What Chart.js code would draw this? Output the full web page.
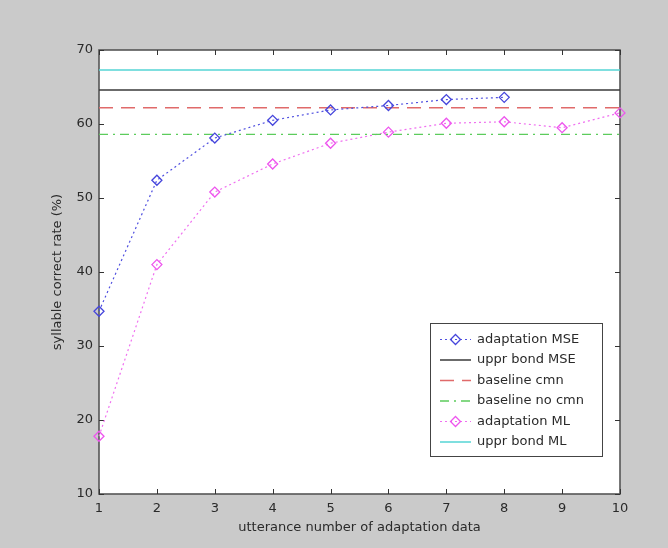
<!DOCTYPE html>
<html>
<head>
<meta charset="utf-8">
<script src="https://cdn.jsdelivr.net/npm/chart.js@4"></script>
<style>
  html, body { margin: 0; padding: 0; background: #cacaca; }
  #wrap { width: 668px; height: 548px; }
</style>
</head>
<body>
<div id="wrap"><canvas id="rateChart" width="668" height="548"></canvas></div>
<script>
// data
const utterances = [1, 2, 3, 4, 5, 6, 7, 8, 9, 10];
const adaptationMSE = [34.7, 52.4, 58.1, 60.5, 61.9, 62.5, 63.3, 63.6];
const adaptationML = [17.8, 41.0, 50.8, 54.6, 57.4, 58.9, 60.1, 60.3, 59.5, 61.5];
const upperBondMSE = 64.6;
const baselineCmn = 62.2;
const baselineNoCmn = 58.6;
const upperBondML = 67.3;
const yTicks = [10, 20, 30, 40, 50, 60, 70];

const FONT = "DejaVu Sans";
const TEXT = "#2a2a2a";

function curve(values) {
    return values.map((v, i) => ({ x: utterances[i], y: v }));
}

function flat(v) {
    return [{ x: utterances[0], y: v }, { x: utterances[utterances.length - 1], y: v }];
}

const datasets = [
    {
        label: "adaptation MSE",
        data: curve(adaptationMSE),
        borderColor: "#5050e0",
        borderWidth: 1.2,
        borderDash: [2, 3],
        pointStyle: "rectRot",
        pointRadius: 5,
        pointBorderColor: "#4646dc",
        pointBackgroundColor: "rgba(0,0,0,0)",
        pointBorderWidth: 1.3,
        marker: true
    },
    {
        label: "uppr bond MSE",
        data: flat(upperBondMSE),
        borderColor: "#3a3a3a",
        borderWidth: 1.5,
        borderDash: [],
        pointRadius: 0
    },
    {
        label: "baseline cmn",
        data: flat(baselineCmn),
        borderColor: "#e06a6a",
        borderWidth: 1.5,
        borderDash: [14, 8],
        pointRadius: 0
    },
    {
        label: "baseline no cmn",
        data: flat(baselineNoCmn),
        borderColor: "#5ccc5c",
        borderWidth: 1.3,
        borderDash: [9, 5, 2, 5],
        pointRadius: 0
    },
    {
        label: "adaptation ML",
        data: curve(adaptationML),
        borderColor: "#f070f0",
        borderWidth: 1.2,
        borderDash: [2, 3],
        pointStyle: "rectRot",
        pointRadius: 5,
        pointBorderColor: "#ee55ee",
        pointBackgroundColor: "rgba(0,0,0,0)",
        pointBorderWidth: 1.3,
        marker: true
    },
    {
        label: "uppr bond ML",
        data: flat(upperBondML),
        borderColor: "#55d4d4",
        borderWidth: 1.5,
        borderDash: [],
        pointRadius: 0
    }
];

// white axes box, frame and inward ticks like the matlab figure
const axesBox = {
    id: "axesBox",
    beforeDatasetsDraw(chart) {
        const { ctx, chartArea: a, scales } = chart;
        ctx.save();
        ctx.strokeStyle = "#555";
        ctx.lineWidth = 1.6;
        ctx.strokeRect(a.left, a.top, a.right - a.left, a.bottom - a.top);
        ctx.lineWidth = 1;
        ctx.strokeStyle = "#333";
        ctx.beginPath();
        utterances.forEach(u => {
            const x = Math.round(scales.x.getPixelForValue(u)) + 0.5;
            ctx.moveTo(x, a.bottom); ctx.lineTo(x, a.bottom - 5);
            ctx.moveTo(x, a.top); ctx.lineTo(x, a.top + 5);
        });
        yTicks.forEach(t => {
            const y = Math.round(scales.y.getPixelForValue(t)) + 0.5;
            ctx.moveTo(a.left, y); ctx.lineTo(a.left + 5, y);
            ctx.moveTo(a.right, y); ctx.lineTo(a.right - 5, y);
        });
        ctx.stroke();
        ctx.restore();
    },
    beforeDraw(chart) {
        const { ctx, chartArea: a } = chart;
        ctx.save();
        ctx.fillStyle = "#ffffff";
        ctx.fillRect(a.left, a.top, a.right - a.left, a.bottom - a.top);
        ctx.restore();
    }
};

// legend box inside the axes, lower right
const insideLegend = {
    id: "insideLegend",
    afterDatasetsDraw(chart) {
        const { ctx } = chart;
        const box = { x: 430.5, y: 323.5, w: 172, h: 133 };
        ctx.save();
        ctx.fillStyle = "#ffffff";
        ctx.fillRect(box.x, box.y, box.w, box.h);
        ctx.strokeStyle = "#444";
        ctx.lineWidth = 1;
        ctx.strokeRect(box.x, box.y, box.w, box.h);
        ctx.font = "13px '" + FONT + "'";
        ctx.textBaseline = "middle";
        chart.data.datasets.forEach((ds, i) => {
            const y = 339.5 + i * 20.5;
            ctx.strokeStyle = ds.borderColor;
            ctx.lineWidth = ds.borderWidth;
            ctx.setLineDash(ds.borderDash);
            ctx.beginPath();
            ctx.moveTo(440, y);
            ctx.lineTo(471, y);
            ctx.stroke();
            ctx.setLineDash([]);
            if (ds.marker) {
                ctx.strokeStyle = ds.pointBorderColor;
                ctx.lineWidth = 1.3;
                ctx.beginPath();
                ctx.moveTo(455.5, y - 5); ctx.lineTo(460.5, y);
                ctx.lineTo(455.5, y + 5); ctx.lineTo(450.5, y);
                ctx.closePath();
                ctx.stroke();
            }
            ctx.fillStyle = TEXT;
            ctx.fillText(ds.label, 477, y);
        });
        ctx.restore();
    }
};

new Chart(document.getElementById("rateChart"), {
    type: "line",
    data: { datasets: datasets },
    options: {
        responsive: false,
        animation: false,
        layout: { padding: { left: 0, right: 48, top: 50, bottom: 0 } },
        elements: { line: { tension: 0 } },
        datasets: { line: { clip: false } },
        plugins: {
            legend: { display: false },
            tooltip: { enabled: false }
        },
        scales: {
            x: {
                type: "linear",
                min: 1,
                max: 10,
                afterFit: s => { s.height = 54; },
                afterBuildTicks: s => { s.ticks = utterances.map(v => ({ value: v })); },
                grid: { display: false, drawTicks: false },
                border: { display: false },
                ticks: { color: TEXT, padding: 7, font: { family: FONT, size: 13 }, maxRotation: 0 },
                title: {
                    display: true,
                    text: "utterance number of adaptation data",
                    color: TEXT,
                    font: { family: FONT, size: 13 },
                    padding: { top: 0, bottom: 13 }
                }
            },
            y: {
                min: 10,
                max: 70,
                afterFit: s => { s.width = 99; },
                afterBuildTicks: s => { s.ticks = yTicks.map(v => ({ value: v })); },
                grid: { display: false, drawTicks: false },
                border: { display: false },
                ticks: { color: TEXT, padding: 6, font: { family: FONT, size: 13 } },
                title: {
                    display: true,
                    text: "syllable correct rate (%)",
                    color: TEXT,
                    font: { family: FONT, size: 13 },
                    padding: { top: 50, bottom: 0 }
                }
            }
        }
    },
    plugins: [axesBox, insideLegend]
});
</script>
</body>
</html>
